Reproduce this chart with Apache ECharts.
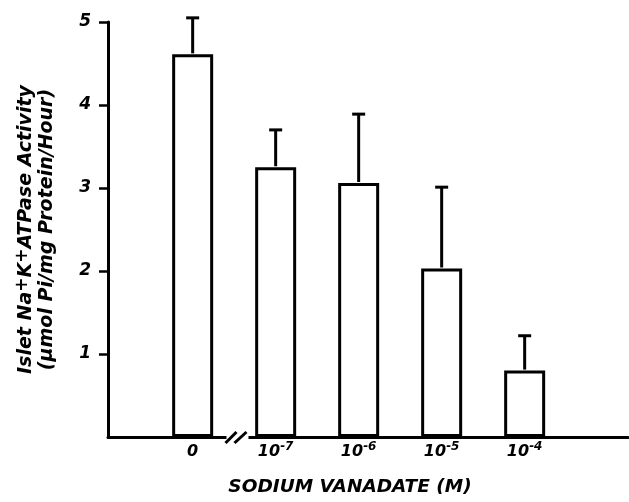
<!DOCTYPE html>
<html>
<head>
<meta charset="utf-8">
<script src="https://cdn.jsdelivr.net/npm/echarts@6/dist/echarts.min.js"></script>
<style>html,body{margin:0;padding:0;background:#fff}#c{width:629px;height:502px}</style>
</head>
<body>
<div id="c"></div>
<script>
// Data
var categories = ['0', '10{sup|-7}', '10{sup|-6}', '10{sup|-5}', '10{sup|-4}'];
var means = [4.61, 3.25, 3.06, 2.03, 0.80];
var errTops = [5.05, 3.70, 3.89, 3.01, 1.22];
var yTicks = [1, 2, 3, 4, 5];

var FONT = '"DejaVu Sans", sans-serif';
var positions = categories.map(function (c, i) { return i; });
var barData = means.map(function (m, i) { return [positions[i], m]; });
var errData = means.map(function (m, i) { return [positions[i], m, errTops[i]]; });

var chart = echarts.init(document.getElementById('c'), null, {renderer: 'canvas'});
chart.setOption({
  animation: false,
  backgroundColor: '#fff',
  grid: {left: 108, right: 1, top: 22, bottom: 64.5},
  xAxis: {
    type: 'value',
    min: -1.02, max: 5.245,
    splitLine: {show: false},
    axisLine: {show: true, onZero: false, lineStyle: {color: '#000', width: 3}},
    axisTick: {show: false},
    axisLabel: {
      customValues: positions,
      formatter: function (v) { var i = Math.round(v); return categories[i] || ''; },
      color: '#000', fontFamily: FONT, fontStyle: 'italic', fontWeight: 'bold', fontSize: 16,
      margin: 6, lineHeight: 18,
      rich: {sup: {fontSize: 12, fontFamily: FONT, fontStyle: 'italic', fontWeight: 'bold', color: '#000', lineHeight: 18, padding: [0, 0, 11, 0]}}
    },
    name: 'SODIUM VANADATE (M)',
    nameLocation: 'middle',
    nameGap: 41,
    nameTextStyle: {color: '#000', fontFamily: FONT, fontStyle: 'italic', fontWeight: 'bold', fontSize: 18.5, padding: [0, 36, 0, 0]}
  },
  yAxis: {
    type: 'value',
    min: 0, max: 5,
    splitLine: {show: false},
    axisLine: {show: true, onZero: false, lineStyle: {color: '#000', width: 3}},
    axisTick: {show: true, inside: false, length: 9, customValues: yTicks, lineStyle: {color: '#000', width: 2.5}},
    axisLabel: {
      customValues: yTicks,
      color: '#000', fontFamily: FONT, fontStyle: 'italic', fontWeight: 'bold', fontSize: 17, margin: 17
    },
    name: 'Islet Na{sup|+}K{sup|+}ATPase Activity\n(μmol Pi/mg Protein/Hour)',
    nameLocation: 'middle',
    nameRotate: 90,
    nameGap: 50,
    nameTextStyle: {
      color: '#000', fontFamily: FONT, fontStyle: 'italic', fontWeight: 'bold', fontSize: 19, lineHeight: 21,
      rich: {sup: {fontSize: 17, fontFamily: FONT, fontStyle: 'italic', fontWeight: 'bold', color: '#000', lineHeight: 21, padding: [0, 0, 8, 0]}}
    }
  },
  series: [
    {
      type: 'bar',
      data: barData,
      barWidth: 41,
      itemStyle: {color: '#fff', borderColor: '#000', borderWidth: 3},
      z: 3
    },
    {
      type: 'custom',
      clip: false,
      z: 4,
      data: errData,
      renderItem: function (params, api) {
        var p0 = api.coord([api.value(0), api.value(1)]);
        var p1 = api.coord([api.value(0), api.value(2)]);
        var st = {stroke: '#000', lineWidth: 3};
        return {
          type: 'group',
          children: [
            {type: 'line', shape: {x1: p0[0], y1: p0[1] - 1, x2: p1[0], y2: p1[1]}, style: st},
            {type: 'line', shape: {x1: p1[0] - 6.5, y1: p1[1], x2: p1[0] + 6.5, y2: p1[1]}, style: st}
          ]
        };
      }
    },
    {
      type: 'custom',
      clip: false,
      z: 5,
      silent: true,
      data: [[0.54, 0]],
      renderItem: function (params, api) {
        var p = api.coord([api.value(0), api.value(1)]);
        var st = {stroke: '#000', lineWidth: 3};
        return {
          type: 'group',
          children: [
            {type: 'rect', shape: {x: p[0] - 11, y: p[1] - 3, width: 22, height: 6}, style: {fill: '#fff'}},
            {type: 'line', shape: {x1: p[0] - 12, y1: p[1] + 6, x2: p[0] - 1, y2: p[1] - 5}, style: st},
            {type: 'line', shape: {x1: p[0] - 3, y1: p[1] + 6, x2: p[0] + 9, y2: p[1] - 5}, style: st}
          ]
        };
      }
    }
  ]
});
</script>
</body>
</html>
